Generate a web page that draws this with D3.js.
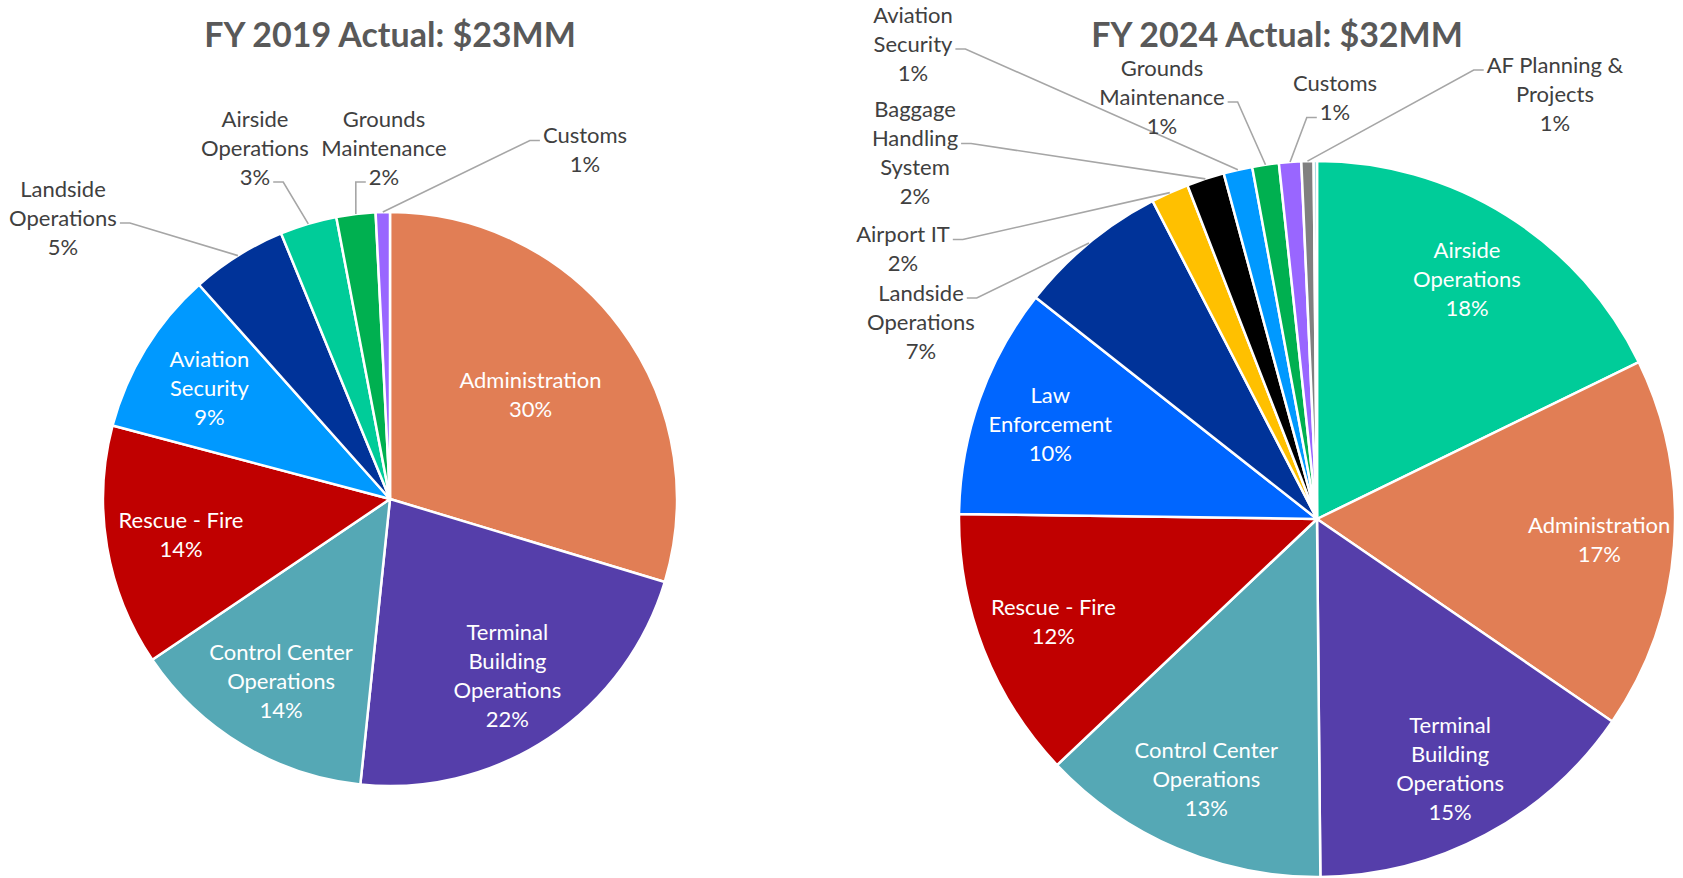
<!DOCTYPE html>
<html>
<head>
<meta charset="utf-8">
<script src="https://cdn.jsdelivr.net/npm/d3@7"></script>
<style>
  body { margin: 0; background: #fff; }
  svg { display: block; font-family: Lato, "Open Sans", sans-serif; }
</style>
</head>
<body>
<svg id="chart" width="1683" height="878"></svg>
<script>
// FY 2019 operating budget split, clockwise from 12 o'clock (share of $23MM, %)
const names2019 = ["Administration", "Terminal\nBuilding\nOperations", "Control Center\nOperations",
    "Rescue - Fire", "Aviation\nSecurity", "Landside\nOperations", "Airside\nOperations",
    "Grounds\nMaintenance", "Customs"];
const values2019 = [29.7, 22.0, 13.9, 13.6, 9.3, 5.4, 3.2, 2.2, 0.8];

// FY 2024 split (share of $32MM, %), last sliver has no label in the source
const names2024 = ["Airside\nOperations", "Administration", "Terminal\nBuilding\nOperations",
    "Control Center\nOperations", "Rescue - Fire", "Law\nEnforcement", "Landside\nOperations",
    "Airport IT", "Baggage\nHandling\nSystem", "Aviation\nSecurity", "Grounds\nMaintenance",
    "Customs", "AF Planning &\nProjects", "Other"];
const values2024 = [17.8, 16.8, 15.3, 13.1, 12.3, 10.4, 6.8, 1.7, 1.7, 1.3, 1.2, 1.0, 0.55, 0.15];

const titles = ["FY 2019 Actual: $23MM", "FY 2024 Actual: $32MM"];

// one colour per department, same in both pies
const deptColor = {
    "Administration": "#E17E55",
    "Terminal\nBuilding\nOperations": "#553EAA",
    "Control Center\nOperations": "#55A8B5",
    "Rescue - Fire": "#C00000",
    "Aviation\nSecurity": "#0099FF",
    "Landside\nOperations": "#003399",
    "Airside\nOperations": "#00CC99",
    "Grounds\nMaintenance": "#00B050",
    "Customs": "#9966FF",
    "Law\nEnforcement": "#0066FF",
    "Airport IT": "#FFC000",
    "Baggage\nHandling\nSystem": "#000000",
    "AF Planning &\nProjects": "#808080",
    "Other": "#8ECFD6"
}

// where the small-slice labels sit, relative to the pie centre,
// and which text line / side the leader line leaves from
const callouts2019 = {
    "Landside\nOperations": { dx: -327, dy: -281, side: "right", line: 1 },
    "Airside\nOperations": { dx: -135, dy: -351, side: "right", line: 2 },
    "Grounds\nMaintenance": { dx: -6, dy: -351, side: "left", line: 2 },
    "Customs": { dx: 195, dy: -349, side: "left", line: 0 }
}
const callouts2024 = {
    "Aviation\nSecurity": { dx: -404, dy: -475, side: "right", line: 1 },
    "Grounds\nMaintenance": { dx: -155, dy: -422, side: "right", line: 1 },
    "Customs": { dx: 18, dy: -421, side: "left", line: 1 },
    "AF Planning &\nProjects": { dx: 238, dy: -425, side: "left", line: 0 },
    "Baggage\nHandling\nSystem": { dx: -402, dy: -366, side: "right", line: 1 },
    "Airport IT": { dx: -414, dy: -270, side: "right", line: 0 },
    "Landside\nOperations": { dx: -396, dy: -197, side: "right", line: 0 }
}

svg = d3.select("#chart")
lineH = 29
pct = d3.format(".0%")

function drawPie(names, values, title, cx, cy, r, callouts) {
    rows = names.map((n, i) => ({ name: n, value: values[i] }))
    total = d3.sum(values)
    slices = d3.pie().sort(null).value(d => d.value)(rows)

    g = svg.append("g").attr("transform", "translate(" + cx + "," + cy + ")")

    // Slices
    g.selectAll("path")
        .data(slices)
        .enter().append("path")
        .attr("d", d3.arc().innerRadius(0).outerRadius(r))
        .attr("fill", d => deptColor[d.data.name])
        .attr("stroke", "#fff")
        .attr("stroke-width", 2.5)
        .attr("stroke-linejoin", "round")

    // Title
    svg.append("text")
        .attr("x", cx - (cx > 800 ? 40 : 0))
        .attr("y", 35)
        .attr("dy", "0.35em")
        .attr("text-anchor", "middle")
        .attr("font-size", 34)
        .attr("font-weight", "bold")
        .attr("fill", "#595959")
        .text(title)

    edge = d3.arc().innerRadius(r).outerRadius(r)

    slices.forEach(function (d) {
        share = d.data.value / total
        if (share < 0.005) return
        lines = d.data.name.split("\n").concat([pct(share)])
        c = callouts[d.data.name]

        if (!c) {
            // inside label, pulled in a bit more on the very wide slices
            rr = r - 75 - (share > 0.25 ? 37 : 0)
            p = d3.arc().innerRadius(rr).outerRadius(rr).centroid(d)
            t = g.append("text")
                .attr("text-anchor", "middle")
                .attr("font-size", 22)
                .attr("fill", "#fff")
            lines.forEach(function (s, i) {
                t.append("tspan")
                    .attr("x", p[0])
                    .attr("y", p[1] - (lines.length - 1) * lineH / 2 + i * lineH)
                    .attr("dy", "0.35em")
                    .text(s)
            })
            return
        }

        // outside label with a leader line back to the slice
        t = g.append("text")
            .attr("text-anchor", "middle")
            .attr("font-size", 22)
            .attr("fill", "#404040")
        spans = lines.map(function (s, i) {
            return t.append("tspan")
                .attr("x", c.dx)
                .attr("y", c.dy - (lines.length - 1) * lineH / 2 + i * lineH)
                .attr("dy", "0.35em")
                .text(s)
        })
        w = spans[c.line].node().getComputedTextLength()
        ay = c.dy - (lines.length - 1) * lineH / 2 + c.line * lineH + 5
        dir = c.side == "right" ? 1 : -1
        ax = c.dx + dir * (w / 2 + 3)
        end = edge.centroid(d)
        g.append("path")
            .attr("fill", "none")
            .attr("stroke", "#A6A6A6")
            .attr("stroke-width", 1.6)
            .attr("d", d3.line()([[ax, ay], [ax + dir * 10, ay], end]))
    })
}

drawPie(names2019, values2019, titles[0], 390, 499, 287, callouts2019)
drawPie(names2024, values2024, titles[1], 1317, 519, 358, callouts2024)
</script>
</body>
</html>
